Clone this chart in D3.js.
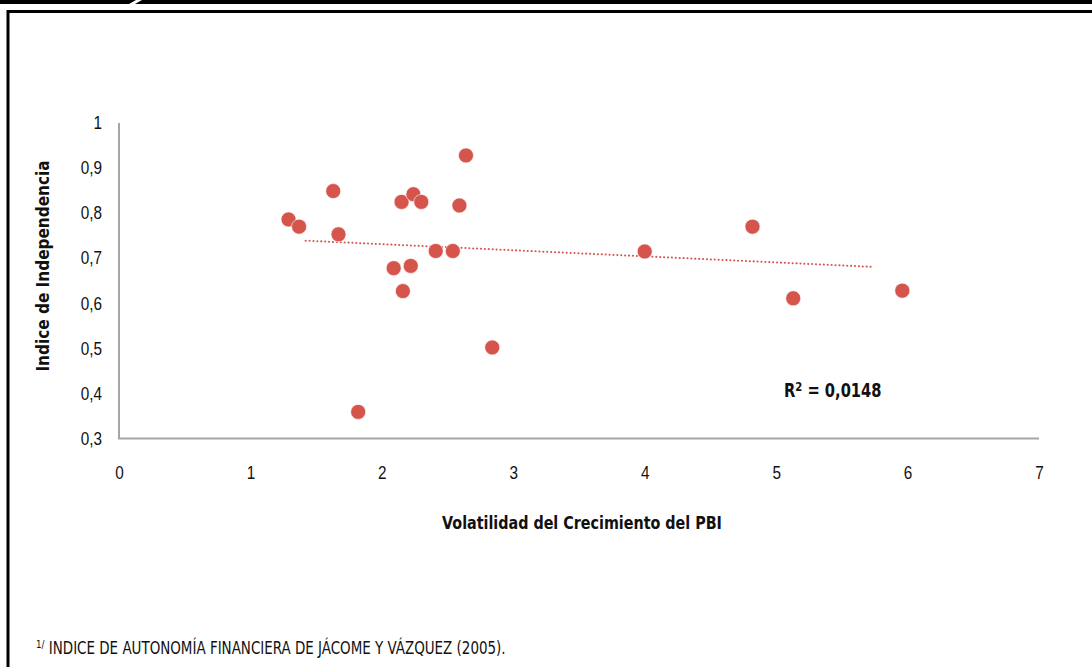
<!DOCTYPE html>
<html>
<head>
<meta charset="utf-8">
<script src="https://cdn.jsdelivr.net/npm/d3@7"></script>
<style>
  html, body { margin: 0; padding: 0; background: #fff; }
  svg { display: block; font-family: 'DejaVu Sans Condensed', 'Liberation Sans Narrow', sans-serif; }
</style>
</head>
<body>
<script>
const width = 1092;
const height = 667;

// volatility of GDP growth (x) vs independence index (y)
const volatility = [1.29, 1.37, 1.63, 1.67, 1.82, 2.09, 2.15, 2.16, 2.22, 2.24, 2.30, 2.41, 2.54, 2.59, 2.64, 2.84, 4.00, 4.82, 5.13, 5.96];
const independence = [0.786, 0.770, 0.849, 0.753, 0.359, 0.678, 0.825, 0.627, 0.683, 0.842, 0.825, 0.716, 0.716, 0.817, 0.928, 0.502, 0.715, 0.770, 0.611, 0.628];

// linear trend line end points
const trendX = [1.42, 5.72];
const trendY = [0.739, 0.681];

const xTicks = [0, 1, 2, 3, 4, 5, 6, 7];
const yTicks = [0.3, 0.4, 0.5, 0.6, 0.7, 0.8, 0.9, 1];

const data = volatility.map((v, i) => ({ x: v, y: independence[i] }));

const x = d3.scaleLinear().domain([0, 7]).range([119, 1039]);
const y = d3.scaleLinear().domain([0.3, 1]).range([438.5, 123]);

const fmt = v => String(v).replace('.', ',');
const squeeze = 0.85;

const svg = d3.select('body').append('svg')
  .attr('width', width)
  .attr('height', height)
  .attr('viewBox', [0, 0, width, height]);

// page frame
svg.append('rect')
  .attr('x', 0).attr('y', 0)
  .attr('width', width).attr('height', 4)
  .attr('fill', '#000');
svg.append('polygon')
  .attr('points', '136,0 142,0 135,4 129,4')
  .attr('fill', '#fff');
svg.append('path')
  .attr('d', `M8,${height} V11.5 H${width}`)
  .attr('fill', 'none')
  .attr('stroke', '#000')
  .attr('stroke-width', 3);

// axes
const xAxis = d3.axisBottom(x)
  .tickValues(xTicks)
  .tickFormat(fmt)
  .tickSize(0)
  .tickPadding(28);

const yAxis = d3.axisLeft(y)
  .tickValues(yTicks)
  .tickFormat(fmt)
  .tickSize(0)
  .tickPadding(17);

const xAxisG = svg.append('g')
  .attr('transform', `translate(0,${y(0.3)})`)
  .call(xAxis);

const yAxisG = svg.append('g')
  .attr('transform', `translate(${x(0)},0)`)
  .call(yAxis);

for (const g of [xAxisG, yAxisG]) {
  g.select('.domain').remove();
  g.selectAll('text')
    .attr('font-family', null)
    .attr('font-size', 18)
    .attr('fill', '#111')
    .attr('transform', `scale(${squeeze},1)`);
}
// y labels are right-anchored at -17, undo the squeeze on that offset
yAxisG.selectAll('text').attr('x', -17 / squeeze);

svg.append('path')
  .attr('d', `M${x(0)},${y(1)} V${y(0.3)} H${x(7)}`)
  .attr('fill', 'none')
  .attr('stroke', '#a6a6a6')
  .attr('stroke-width', 2);

// trend line
svg.append('line')
  .attr('x1', x(trendX[0])).attr('y1', y(trendY[0]))
  .attr('x2', x(trendX[1])).attr('y2', y(trendY[1]))
  .attr('stroke', '#d5554d')
  .attr('stroke-width', 2)
  .attr('stroke-dasharray', '0.1,3.8')
  .attr('stroke-linecap', 'round');

// points
svg.append('g')
  .selectAll('circle')
  .data(data)
  .join('circle')
  .attr('cx', d => x(d.x))
  .attr('cy', d => y(d.y))
  .attr('r', 7.5)
  .attr('fill', '#d5554d')
  .attr('stroke', '#fff')
  .attr('stroke-width', 0.6);

// condensed text helper: squeeze horizontally around its anchor
function label(px, py, sx, size, weight) {
  return svg.append('text')
    .attr('transform', `translate(${px},${py}) scale(${sx},1)`)
    .attr('font-size', size)
    .attr('font-weight', weight)
    .attr('fill', '#111');
}

// R squared label
const r2 = label(784, 397, 0.86, 19, 'bold');
r2.append('tspan').text('R');
r2.append('tspan').attr('dy', -6).attr('font-size', 13).text('2');
r2.append('tspan').attr('dy', 6).text(' = 0,0148');

// axis titles
label(582, 529, 0.885, 18, 'bold')
  .attr('text-anchor', 'middle')
  .text('Volatilidad del Crecimiento del PBI');

svg.append('text')
  .attr('transform', `translate(49,266) rotate(-90)`)
  .attr('text-anchor', 'middle')
  .attr('font-size', 17)
  .attr('font-weight', 'bold')
  .attr('fill', '#111')
  .text('Indice de Independencia');

// footnote
const note = label(36, 654, 0.88, 17, 'normal');
note.append('tspan').attr('font-size', 11).attr('dy', -6).text('1/');
note.append('tspan').attr('dy', 6).text(' INDICE DE AUTONOMÍA FINANCIERA DE JÁCOME Y VÁZQUEZ (2005).');
</script>
</body>
</html>
